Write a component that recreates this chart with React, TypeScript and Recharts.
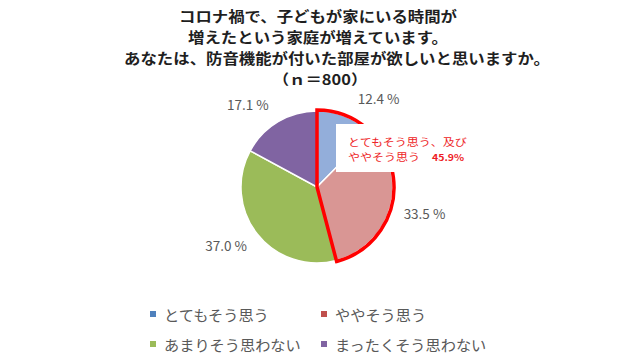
import React from "react";
import { PieChart, Pie, Cell, Legend } from "recharts";

const categories = ["とてもそう思う", "ややそう思う", "あまりそう思わない", "まったくそう思わない"];
const values = [12.4, 33.5, 37.0, 17.1];
const highlightValues = [45.9, 54.1];
const titleLines = [
  "コロナ禍で、子どもが家にいる時間が",
  "増えたという家庭が増えています。",
  "あなたは、防音機能が付いた部屋が欲しいと思いますか。",
  "（ｎ＝800）",
];
const calloutLines = ["とてもそう思う、及び", "ややそう思う"];
const calloutValue = "45.9%";

const sliceColors = ["#93AEDA", "#D99694", "#9BBB59", "#8064A2"];
const legendColors = ["#4F81BD", "#C0504D", "#9BBB59", "#8064A2"];
const labelShift = [
  [22, 7],
  [7, -1],
  [-9, -6],
  [-16, 6],
];
const titleShift = [0, 0, 19, 2];

const data = categories.map((name, i) => ({ name, value: values[i], legendColor: legendColors[i] }));
const highlight = highlightValues.map((v, i) => ({ name: "h" + i, value: v }));

const FONT = '"Noto Sans CJK JP", "Noto Sans", sans-serif';

const renderLabel = (props: any) => {
  const { cx, cy, midAngle, outerRadius, index, value } = props;
  const RAD = Math.PI / 180;
  const r = outerRadius + 28;
  const x = cx + r * Math.cos(-midAngle * RAD) + labelShift[index][0];
  const y = cy + r * Math.sin(-midAngle * RAD) + labelShift[index][1];
  return (
    <text x={x} y={y} fill="#595959" fontSize={13.5} fontFamily={FONT} textAnchor="middle" dominantBaseline="central">
      {value.toFixed(1)} %
    </text>
  );
};

const renderLegend = () => (
  <div style={{ display: "grid", gridTemplateColumns: "171px 190px", rowGap: 8, fontFamily: FONT }}>
    {data.map((d) => (
      <div key={d.name} style={{ display: "flex", alignItems: "center", height: 22 }}>
        <span style={{ width: 6, height: 6, background: d.legendColor, display: "inline-block", marginRight: 8 }} />
        <span style={{ color: "#595959", fontSize: 15.2 }}>{d.name}</span>
      </div>
    ))}
  </div>
);

export default function App() {
  return (
    <div style={{ position: "relative", width: 622, height: 362, background: "#fff", overflow: "hidden" }}>
      <style>{`body{margin:0}`}</style>
      {titleLines.map((t, i) => (
        <div
          key={t}
          style={{
            position: "absolute",
            left: titleShift[i] - 100,
            top: 6 + i * 21,
            width: 836,
            height: 21,
            lineHeight: "21px",
            textAlign: "center",
            fontFamily: FONT,
            fontWeight: 700,
            fontSize: 16.4,
            color: "#1F1F1F",
            zIndex: 2,
            whiteSpace: "nowrap",
            transform: "scaleY(0.87)",
          }}
        >
          {t}
        </div>
      ))}
      <PieChart width={622} height={362} margin={{ top: 0, right: 0, bottom: 0, left: 0 }}>
        <Pie
          data={data}
          dataKey="value"
          nameKey="name"
          cx={317}
          cy={187}
          outerRadius={76}
          startAngle={90}
          endAngle={-270}
          stroke="#ffffff"
          strokeWidth={1.5}
          label={renderLabel}
          labelLine={false}
          isAnimationActive={false}
        >
          {data.map((d, i) => (
            <Cell key={d.name} fill={sliceColors[i]} />
          ))}
        </Pie>
        <Pie
          data={highlight}
          dataKey="value"
          cx={317}
          cy={187}
          outerRadius={77}
          startAngle={90}
          endAngle={-270}
          legendType="none"
          isAnimationActive={false}
        >
          <Cell fill="none" stroke="#FF0000" strokeWidth={3.5} />
          <Cell fill="none" stroke="none" />
        </Pie>
        <Legend
          content={renderLegend}
          wrapperStyle={{ position: "absolute", left: 150, top: 303, width: 400 }}
        />
      </PieChart>
      <div
        style={{
          position: "absolute",
          left: 336,
          top: 124,
          width: 142,
          height: 48,
          background: "#fff",
          fontFamily: FONT,
          color: "#EE1C25",
          fontSize: 12,
          lineHeight: "15px",
          paddingLeft: 12,
          paddingTop: 10,
          boxSizing: "border-box",
        }}
      >
        <div style={{ height: 15, transform: "scaleY(0.85)", whiteSpace: "nowrap" }}>{calloutLines[0]}</div>
        <div style={{ height: 15, transform: "scaleY(0.85)", whiteSpace: "nowrap" }}>
          {calloutLines[1]}
          <span style={{ fontWeight: 700, fontSize: 10.5, marginLeft: 12 }}>{calloutValue}</span>
        </div>
      </div>
    </div>
  );
}
